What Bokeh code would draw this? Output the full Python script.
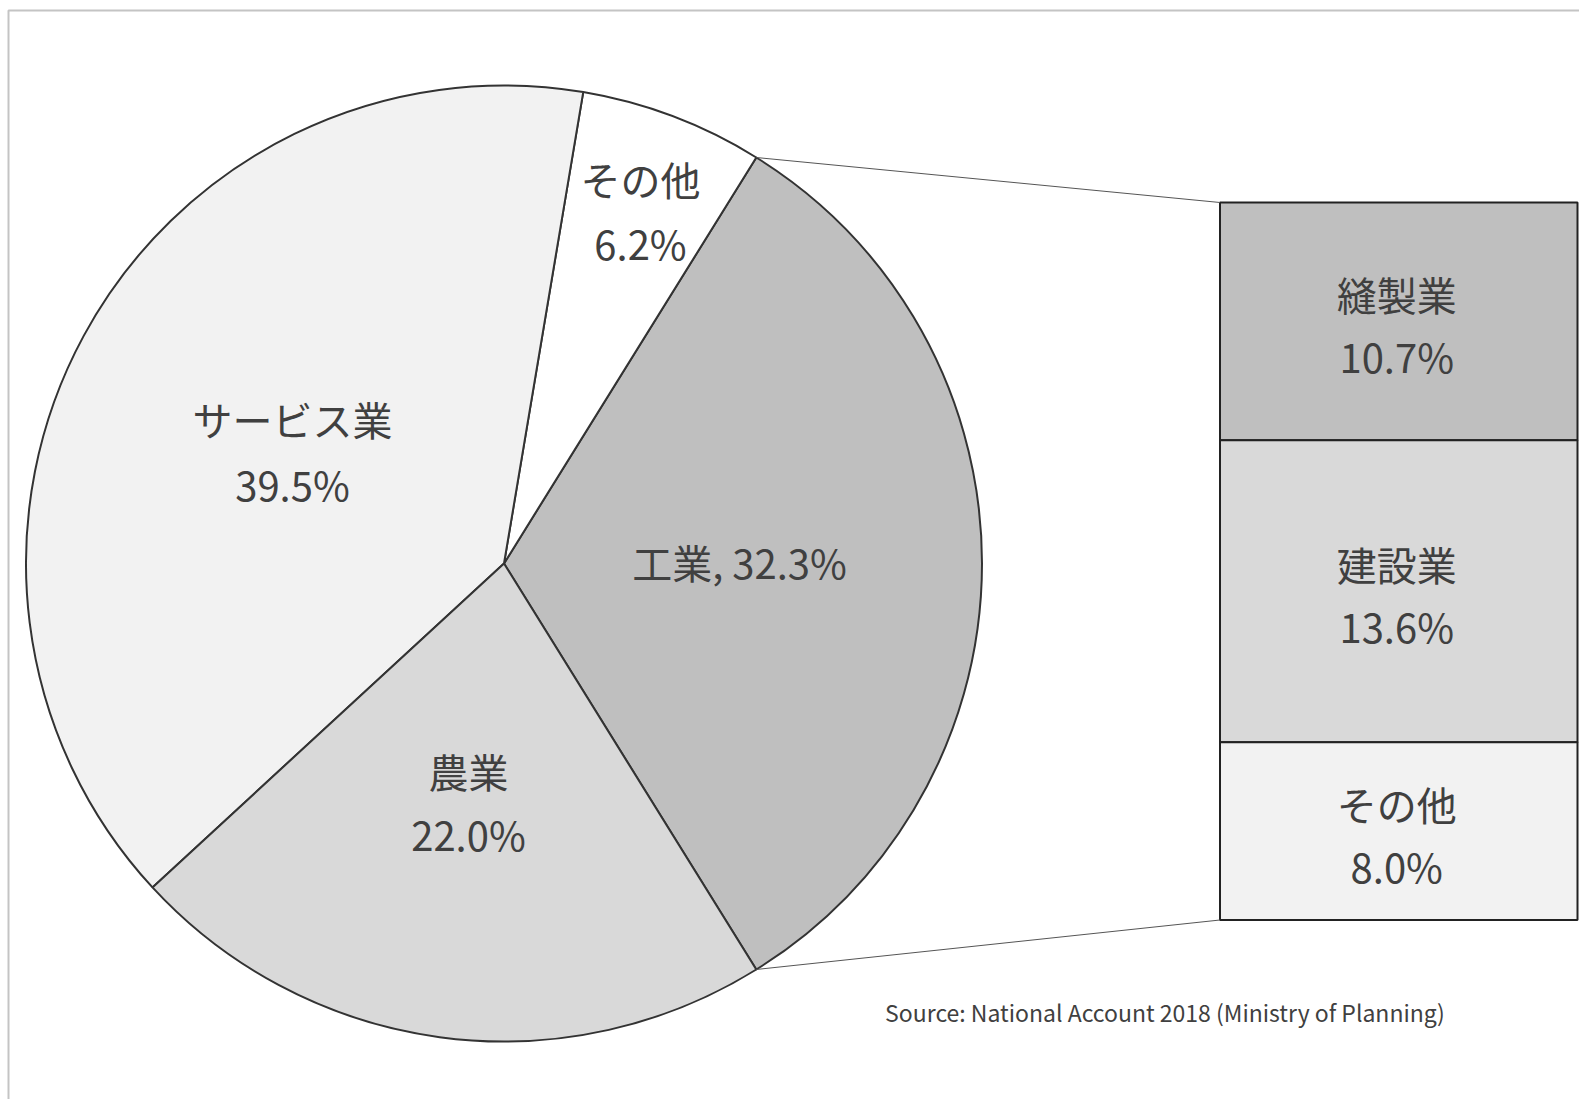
import numpy as np
from bokeh.plotting import figure
from bokeh.models import Range1d, ColumnDataSource
from bokeh.core.properties import value
from bokeh.embed import file_html
from bokeh.resources import INLINE

# ---- data ----
pie_categories = ["工業", "その他", "サービス業", "農業"]
pie_values = [32.3, 6.2, 39.5, 22.0]
pie_colors = ["#bfbfbf", "#ffffff", "#f2f2f2", "#d9d9d9"]

bar_categories = ["縫製業", "建設業", "その他"]
bar_values = [10.7, 13.6, 8.0]
bar_colors = ["#bfbfbf", "#d9d9d9", "#f2f2f2"]

source_note = "Source: National Account 2018 (Ministry of Planning)"

# ---- layout ----
W, H = 1579, 1099
FONT = "Noto Sans CJK JP"
TXT = "#404040"
TEXT_DY = 3  # move labels up by a few px


def S(sx, sy):
    """screen px -> data coords"""
    return sx, H - sy


p = figure(width=W, height=H, x_range=Range1d(0, W), y_range=Range1d(0, H),
           output_backend="svg", toolbar_location=None, min_border=0)
p.axis.visible = False
p.grid.visible = False
p.outline_line_color = None
p.background_fill_color = "white"

# frame (light grey border, top & left visible)
fx0, fy0 = S(8, 10)
p.line(x=[fx0, fx0, W + 20], y=[-20, fy0, fy0], line_color="#c4c4c4", line_width=2)

# pie
cx, cy = S(503.5, 563)
R = 478
vals = np.array(pie_values)
fr = vals / vals.sum() * 2 * np.pi
start0 = -fr[0] / 2
ends = start0 + np.cumsum(fr)
starts = ends - fr
pie_src = ColumnDataSource(dict(cat=pie_categories, start=starts, end=ends, color=pie_colors))
p.wedge(x=cx, y=cy, radius=R, start_angle="start", end_angle="end", fill_color="color",
        line_color="#333333", line_width=2, source=pie_src)

# bar of breakdown
bx0, btop = S(1219.5, 202)
bx1, bbot = S(1577, 919.5)
bvals = np.array(bar_values)
k = (btop - bbot) / bvals.sum()
tops = btop - np.concatenate([[0], np.cumsum(bvals)[:-1]]) * k
bottoms = tops - bvals * k
bar_src = ColumnDataSource(dict(cat=bar_categories, top=tops, bottom=bottoms, color=bar_colors))
p.quad(left=bx0, right=bx1, top="top", bottom="bottom", fill_color="color",
       line_color="#222222", line_width=2, source=bar_src)

# connector lines
ta, ba = ends[0], starts[0]
p.line(x=[cx + R * np.cos(ta), bx0], y=[cy + R * np.sin(ta), btop], line_color="#555555", line_width=1)
p.line(x=[cx + R * np.cos(ba), bx0], y=[cy + R * np.sin(ba), bbot], line_color="#555555", line_width=1)

# pie labels
pie_label_pos = {
    "工業": [(739, 564)],
    "その他": [(640, 181), (640, 245)],
    "サービス業": [(292, 421), (292, 486)],
    "農業": [(468, 773), (468, 836)],
}
lx, ly, lt = [], [], []
for cat, v in zip(pie_categories, pie_values):
    pos = pie_label_pos[cat]
    if len(pos) == 1:
        texts = [f"{cat}, {v:.1f}%"]
    else:
        texts = [cat, f"{v:.1f}%"]
    for (sx, sy), t in zip(pos, texts):
        x, y = S(sx, sy)
        lx.append(x); ly.append(y + TEXT_DY); lt.append(t)

# bar labels
bcx = (bx0 + bx1) / 2 - 2
for cat, v, t, b in zip(bar_categories, bar_values, tops, bottoms):
    mid = (t + b) / 2 - 6.5 + TEXT_DY
    lx += [bcx, bcx]
    ly += [mid + 31, mid - 31]
    lt += [cat, f"{v:.1f}%"]

p.text(x=lx, y=ly, text=lt, text_font=value(FONT), text_font_size="40px",
       text_color=TXT, text_align="center", text_baseline="middle")

sx, sy = S(1164.5, 1014)
p.text(x=[sx], y=[sy + TEXT_DY], text=[source_note], text_font=value(FONT), text_font_size="23px",
       text_color=TXT, text_align="center", text_baseline="middle")

open("out.html", "w").write(file_html(p, INLINE))
